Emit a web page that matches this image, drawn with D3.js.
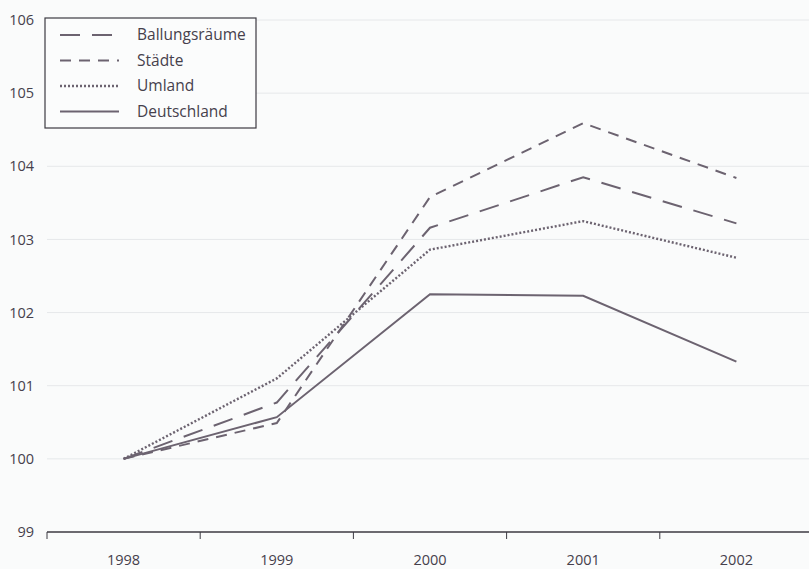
<!DOCTYPE html>
<html>
<head>
<meta charset="utf-8">
<script src="https://cdn.jsdelivr.net/npm/d3@7"></script>
<style>
  body { margin: 0; background: #fafbfb; }
  svg { display: block; font-family: "Open Sans", "Noto Sans", sans-serif; }
</style>
</head>
<body>
<div id="chart"></div>
<script>
// data (index, 1998 = 100)
var years = ["1998", "1999", "2000", "2001", "2002"];
var ballungsraeume = [100, 100.77, 103.16, 103.85, 103.22];
var staedte = [100, 100.49, 103.58, 104.59, 103.84];
var umland = [100, 101.1, 102.86, 103.25, 102.75];
var deutschland = [100, 100.57, 102.25, 102.23, 101.33];
var yTicks = [99, 100, 101, 102, 103, 104, 105, 106];

var series = [
  {name: "Ballungsräume", values: ballungsraeume, dash: "20,12"},
  {name: "Städte", values: staedte, dash: "11,8"},
  {name: "Umland", values: umland, dash: "2,2"},
  {name: "Deutschland", values: deutschland, dash: null}
];

var W = 809, H = 569;
var margin = {top: 20, right: -4, bottom: 37, left: 47};
var width = W - margin.left - margin.right;
var height = H - margin.top - margin.bottom;
var lineColor = "#6c6370";
var textColor = "#46414c";

var svg = d3.select("#chart").append("svg")
    .attr("width", W)
    .attr("height", H)
  .append("g")
    .attr("transform", "translate(" + margin.left + "," + margin.top + ")");

var x = d3.scaleBand().domain(years).range([0, width]);
var y = d3.scaleLinear().domain([99, 106]).range([height, 0]);

// gridlines
svg.selectAll(".grid")
  .data(yTicks.filter(function(d) { return d > 99; }))
  .enter().append("line")
    .attr("x1", 0).attr("x2", width)
    .attr("y1", function(d) { return y(d); })
    .attr("y2", function(d) { return y(d); })
    .attr("stroke", "#e6e8ea")
    .attr("stroke-width", 1);

// y labels
svg.selectAll(".ylab")
  .data(yTicks)
  .enter().append("text")
    .attr("x", -13)
    .attr("y", function(d) { return y(d); })
    .attr("dy", "0.35em")
    .attr("text-anchor", "end")
    .attr("fill", textColor)
    .style("font-size", "14.5px")
    .text(function(d) { return d; });

// x axis
var xAxis = svg.append("g")
  .attr("transform", "translate(0," + height + ")");
xAxis.append("line")
  .attr("x1", 0).attr("x2", width)
  .attr("stroke", "#3c3a42").attr("stroke-width", 1.5);
var edges = years.map(function(d) { return x(d); });
xAxis.selectAll(".tick")
  .data(edges)
  .enter().append("line")
    .attr("x1", function(d) { return d; })
    .attr("x2", function(d) { return d; })
    .attr("y1", 0).attr("y2", 7)
    .attr("stroke", "#3c3a42").attr("stroke-width", 1);
xAxis.selectAll(".xlab")
  .data(years)
  .enter().append("text")
    .attr("x", function(d) { return x(d) + x.bandwidth() / 2; })
    .attr("y", 33)
    .attr("text-anchor", "middle")
    .attr("fill", textColor)
    .style("font-size", "14.5px")
    .text(function(d) { return d; });

// lines
var line = d3.line()
  .x(function(d, i) { return x(years[i]) + x.bandwidth() / 2; })
  .y(function(d) { return y(d); });

svg.selectAll(".series")
  .data(series)
  .enter().append("path")
    .attr("d", function(d) { return line(d.values); })
    .attr("fill", "none")
    .attr("stroke", lineColor)
    .attr("stroke-width", function(d) { return d.dash == "2,2" ? 2.4 : 2; })
    .attr("stroke-dasharray", function(d) { return d.dash; });

// legend
var legend = svg.append("g")
  .attr("transform", "translate(-2,-2)");
legend.append("rect")
  .attr("width", 211).attr("height", 110)
  .attr("fill", "#fbfcfc")
  .attr("stroke", "#3c3a42").attr("stroke-width", 1.2);

var items = legend.selectAll(".item")
  .data(series)
  .enter().append("g")
    .attr("transform", function(d, i) { return "translate(0," + (17 + i * 25.5) + ")"; });
items.append("line")
  .attr("x1", 15).attr("x2", 74)
  .attr("stroke", lineColor)
  .attr("stroke-width", function(d) { return d.dash == "2,2" ? 2.4 : 2; })
  .attr("stroke-dasharray", function(d) { return d.dash; });
items.append("text")
  .attr("x", 92)
  .attr("dy", "0.35em")
  .attr("fill", textColor)
  .style("font-size", "15.5px")
  .text(function(d) { return d.name; });
</script>
</body>
</html>
